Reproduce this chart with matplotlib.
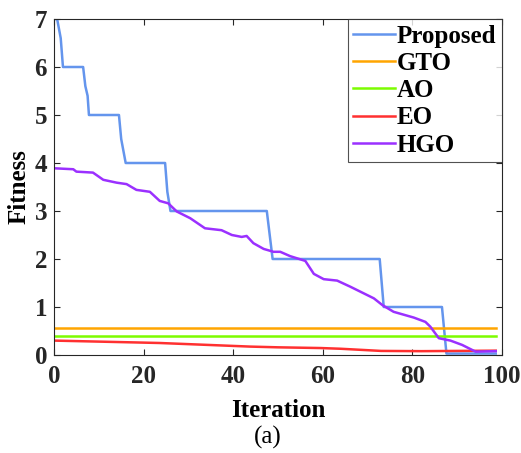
import matplotlib
matplotlib.use("Agg")
import matplotlib.pyplot as plt

plt.rcParams['font.family'] = ['Liberation Serif', 'DejaVu Serif']

# Proposed (step-like convergence)
prop_x = [0, 0.7, 1.5, 2.0, 6.5, 7.0, 7.5, 7.8, 14.5, 15.0, 16.0, 24.8, 25.3, 26.0, 47.5, 48.8, 72.7, 73.6, 86.6, 87.6, 98.6]
prop_y = [7.0, 7.0, 6.6, 6.0, 6.0, 5.6, 5.4, 5.0, 5.0, 4.5, 4.0, 4.0, 3.4, 3.0, 3.0, 2.0, 2.0, 1.0, 1.0, 0.03, 0.03]

gto_x = [0, 98.6]
gto_y = [0.555, 0.555]

ao_x = [0, 98.6]
ao_y = [0.39, 0.39]

eo_x = [0, 19, 23.6, 43.8, 50, 59.5, 64, 70, 73, 82, 98.6]
eo_y = [0.30, 0.26, 0.25, 0.175, 0.16, 0.145, 0.13, 0.10, 0.085, 0.08, 0.09]

hgo_x = [0, 4.3, 5, 8.7, 11, 14, 16.2, 18.4, 21.4, 23.6, 25.5, 27.4, 30.4, 33.7, 37.4, 39.7,
         41.9, 43, 44.5, 46.8, 49, 50.5, 52.7, 56.1, 58, 60.2, 63.2, 66.2, 71.4, 73.3, 75.8,
         80.3, 82.9, 84, 85.9, 88.5, 91.1, 94.1, 98.6]
hgo_y = [3.89, 3.87, 3.82, 3.80, 3.65, 3.59, 3.56, 3.44, 3.40, 3.21, 3.16, 2.99, 2.85, 2.64, 2.60, 2.50,
         2.46, 2.48, 2.33, 2.21, 2.15, 2.15, 2.06, 1.96, 1.69, 1.58, 1.55, 1.42, 1.18, 1.04, 0.90,
         0.78, 0.69, 0.59, 0.35, 0.30, 0.21, 0.07, 0.08]

xticks = [0, 20, 40, 60, 80, 100]
yticks = [0, 1, 2, 3, 4, 5, 6, 7]

fig = plt.figure(figsize=(5.21, 4.53), dpi=100)
ax = fig.add_axes([54/521, 1-355/453, (502-54)/521, (355-19)/453])

lw = 1.8
ax.plot(prop_x, prop_y, color='#6495ED', lw=lw, label='Proposed')
ax.plot(gto_x, gto_y, color='#FFA500', lw=lw, label='GTO')
ax.plot(ao_x, ao_y, color='#7CFC00', lw=lw, label='AO')
ax.plot(eo_x, eo_y, color='#FF3030', lw=lw, label='EO')
ax.plot(hgo_x, hgo_y, color='#9B30FF', lw=lw, label='HGO')

ax.set_xlim(0, 100)
ax.set_ylim(0, 7)
ax.set_xticks(xticks)
ax.set_yticks(yticks)
ax.tick_params(direction='in', top=True, right=True, length=4, width=0.8, colors='#262626',
               labelsize=18)
ax.tick_params(axis='x', pad=7)
ax.tick_params(axis='y', pad=5)
for lab in ax.get_xticklabels() + ax.get_yticklabels():
    lab.set_fontweight('bold')
for s in ax.spines.values():
    s.set_color('#262626')
    s.set_linewidth(0.8)

ax.set_xlabel('Iteration', fontsize=18, fontweight='bold', labelpad=8)
ax.set_ylabel('Fitness', fontsize=18, fontweight='bold', labelpad=3)

leg = ax.legend(loc='upper right', prop={'weight': 'bold', 'size': 18}, frameon=True,
                fancybox=False, borderaxespad=0, handlelength=1.65, handletextpad=0.1,
                labelspacing=0.17, borderpad=0.22)
leg.get_frame().set_edgecolor('#262626')
leg.get_frame().set_linewidth(0.8)

fig.text(268/521, 1-437/453, '(a)', ha='center', va='center', fontsize=18)

fig.savefig('out.png', dpi=100)
